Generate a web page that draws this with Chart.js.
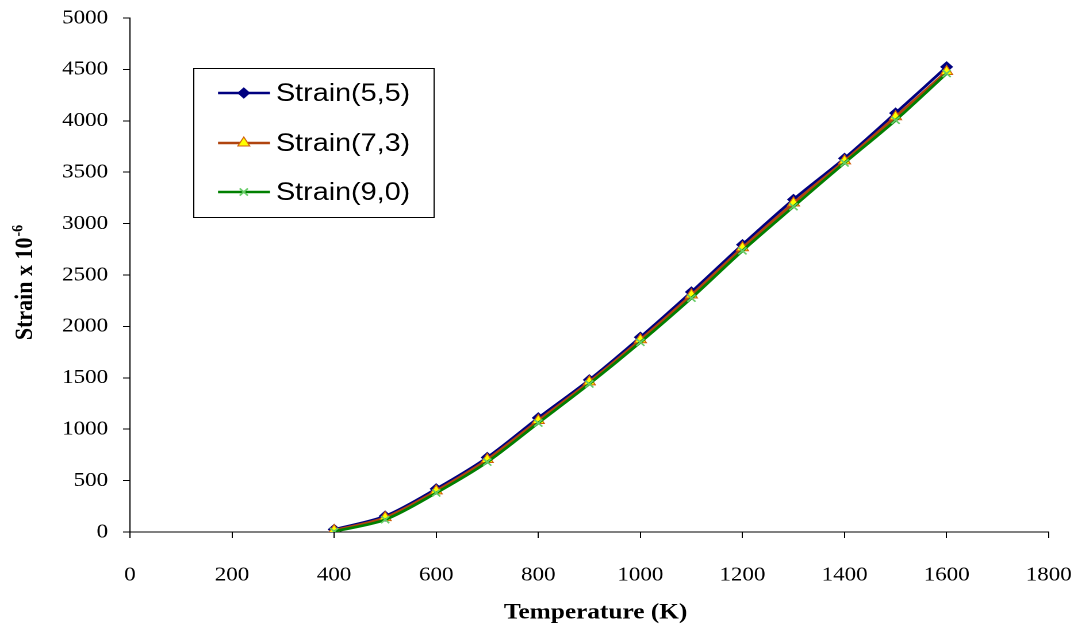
<!DOCTYPE html>
<html>
<head>
<meta charset="utf-8">
<script src="https://cdn.jsdelivr.net/npm/chart.js@4/dist/chart.umd.min.js"></script>
<style>
  html, body { margin: 0; padding: 0; background: #fff; overflow: hidden; }
  #wrap { position: absolute; left: 0; top: 0; width: 941px; height: 633px;
          transform: scaleX(1.1499); transform-origin: 0 0; }
</style>
</head>
<body>
<div id="wrap"><canvas id="chart" width="941" height="633"></canvas></div>
<script>
// data
const temps = [400, 500, 600, 700, 800, 900, 1000, 1100, 1200, 1300, 1400, 1500, 1600];
const strain55 = [25, 155, 420, 725, 1110, 1480, 1895, 2335, 2795, 3235, 3635, 4075, 4525];
const strain73 = [15, 140, 400, 705, 1085, 1460, 1870, 2305, 2765, 3200, 3610, 4040, 4480];
const strain90 = [5, 120, 380, 680, 1060, 1440, 1845, 2275, 2735, 3165, 3590, 4005, 4460];
const seriesNames = ['Strain(5,5)', 'Strain(7,3)', 'Strain(9,0)'];
const xTicks = [0, 1800, 200];   // min, max, step
const yTicks = [0, 5000, 500];

const styles = [
  { line: '#000080', fill: '#000080', stroke: '#000080', point: 'rectRot', r: 5, bw: 1 },
  { line: '#B0440F', fill: '#FFFF00', stroke: '#D06010', point: 'triangle', r: 6, bw: 1 },
  { line: '#008000', fill: '#66CC66', stroke: '#66CC66', point: 'crossRot', r: 5, bw: 1.5 }
];

const pts = vals => temps.map((t, i) => ({ x: t, y: vals[i] }));
const allSeries = [strain55, strain73, strain90];

const serif = '"Liberation Serif", "Times New Roman", serif';

// drop the label overhang so the plot area sits where the layout padding says
function noPad(scale) {
  scale.paddingLeft = scale.paddingRight = scale.paddingTop = scale.paddingBottom = 0;
}

const decor = {
  id: 'decor',
  afterDraw(chart) {
    const ctx = chart.ctx;
    ctx.save();
    ctx.fillStyle = '#000';

    // x axis title
    ctx.font = 'bold 22px ' + serif;
    ctx.textAlign = 'center';
    ctx.textBaseline = 'middle';
    ctx.fillText('Temperature (K)', 518, 613);

    // y axis title with superscript
    ctx.save();
    ctx.translate(20.5, 283);
    ctx.rotate(-Math.PI / 2);
    ctx.textAlign = 'left';
    ctx.textBaseline = 'alphabetic';
    const main = 'Strain x 10', sup = '-6';
    ctx.font = 'bold 22px ' + serif;
    const w1 = ctx.measureText(main).width;
    ctx.font = 'bold 14px ' + serif;
    const w2 = ctx.measureText(sup).width;
    const x0 = -(w1 + w2) / 2;
    ctx.font = 'bold 22px ' + serif;
    ctx.fillText(main, x0, 7.5);
    ctx.font = 'bold 14px ' + serif;
    ctx.fillText(sup, x0 + w1 + 1, -1);
    ctx.restore();

    // legend box
    ctx.strokeStyle = '#000';
    ctx.lineWidth = 1;
    ctx.strokeRect(168.5, 68.5, 209, 149);
    const rows = [93, 143, 192];
    ctx.font = '25px "Liberation Sans", Arial, sans-serif';
    ctx.textAlign = 'left';
    ctx.textBaseline = 'middle';
    rows.forEach((y, i) => {
      const s = styles[i];
      ctx.strokeStyle = s.line;
      ctx.lineWidth = 2.5;
      ctx.beginPath();
      ctx.moveTo(189.6, y);
      ctx.lineTo(234.8, y);
      ctx.stroke();
      ctx.fillStyle = s.fill;
      ctx.strokeStyle = s.stroke;
      ctx.lineWidth = s.bw;
      Chart.helpers.drawPoint(ctx, { pointStyle: s.point, radius: s.r, borderWidth: s.bw, rotation: 0 }, 212, y);
      ctx.fillStyle = '#000';
      ctx.fillText(seriesNames[i], 240, y + 1);
    });
    ctx.restore();
  }
};

new Chart(document.getElementById('chart'), {
  type: 'line',
  data: {
    datasets: allSeries.map((vals, i) => ({
      label: seriesNames[i],
      data: pts(vals),
      borderColor: styles[i].line,
      borderWidth: 2.6,
      backgroundColor: styles[i].fill,
      pointStyle: styles[i].point,
      pointRadius: styles[i].r,
      pointBackgroundColor: styles[i].fill,
      pointBorderColor: styles[i].stroke,
      pointBorderWidth: styles[i].bw,
      tension: 0.3,
      fill: false,
      order: 2 - i
    }))
  },
  options: {
    responsive: false,
    devicePixelRatio: 2,
    animation: false,
    layout: { padding: { left: 0, right: 29, top: 18, bottom: 0 } },
    plugins: { legend: { display: false }, tooltip: { enabled: false } },
    scales: {
      x: {
        type: 'linear',
        min: xTicks[0], max: xTicks[1],
        ticks: { stepSize: xTicks[2], color: '#000', padding: 25,
                 font: { family: serif, size: 20 }, maxRotation: 0,
                 callback: v => String(v) },
        grid: { drawOnChartArea: false, drawTicks: true, tickLength: 6, color: '#000' },
        border: { display: true, color: '#000', width: 1 },
        afterFit(scale) { scale.height = 101; noPad(scale); }
      },
      y: {
        min: yTicks[0], max: yTicks[1],
        ticks: { stepSize: yTicks[2], color: '#000', padding: 13,
                 font: { family: serif, size: 20 },
                 callback: v => String(v) },
        grid: { drawOnChartArea: false, drawTicks: true, tickLength: 6, color: '#000' },
        border: { display: true, color: '#000', width: 1 },
        afterFit(scale) { scale.width = 113; noPad(scale); }
      }
    }
  },
  plugins: [decor]
});
</script>
</body>
</html>
